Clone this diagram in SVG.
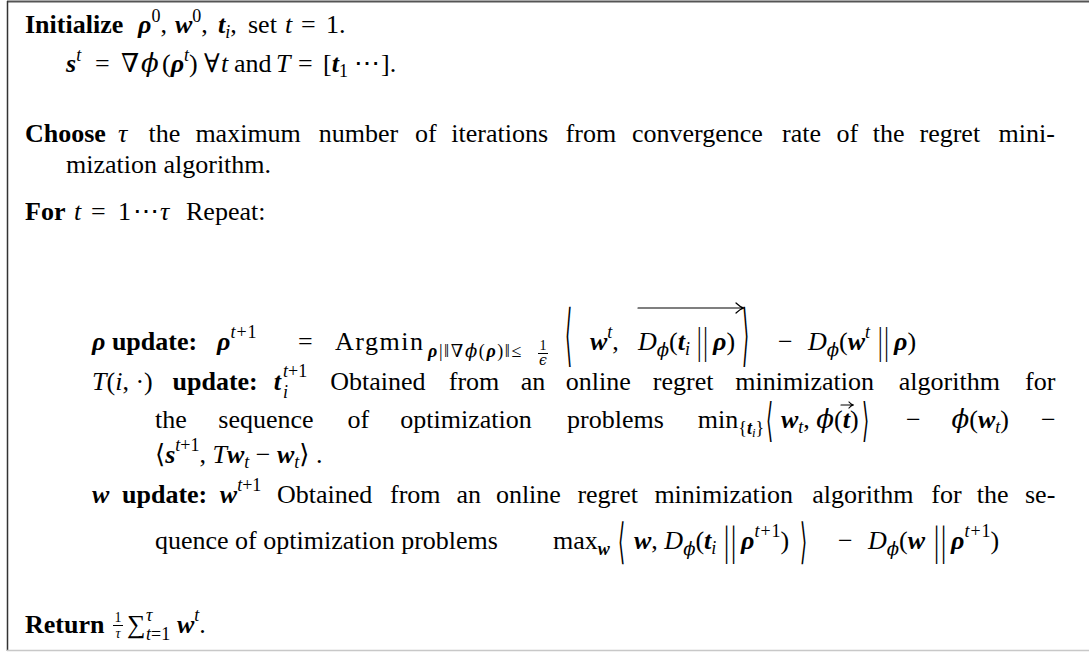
<svg xmlns="http://www.w3.org/2000/svg" width="1089" height="652" viewBox="0 0 1089 652">
<style>
text{font-family:"Liberation Serif","DejaVu Serif",serif;font-size:26px;fill:#000}
.b{font-weight:bold}
.i{font-style:italic}
.v{font-weight:bold;font-style:italic}
.s{font-size:18px}
.t{font-size:13px}
.f{font-size:14px}
.m{font-family:"DejaVu Serif","Liberation Serif",serif}
.ang{font-family:"DejaVu Sans","DejaVu Serif",sans-serif}
.bar{font-family:"Liberation Serif",serif;letter-spacing:3px}
.vec{fill:none;stroke:#000;stroke-width:1.2;stroke-linecap:round;stroke-linejoin:round}
.rule{stroke:#000;stroke-width:1}
</style>
<rect width="1089" height="652" fill="#fff"/>

<!-- box outline -->
<g id="frame">
<line x1="7" y1="1.5" x2="1089" y2="1.5" stroke="#555" stroke-width="2"/>
<line x1="7.5" y1="1" x2="7.5" y2="651" stroke="#333" stroke-width="1.5"/>
<line x1="7" y1="650.5" x2="1089" y2="650.5" stroke="#c8c8c8" stroke-width="1.5"/>
</g>

<!-- Initialize -->
<g id="step-init">
<text x="25" y="33"><tspan class="b">Initialize</tspan><tspan class="v" x="138">ρ</tspan><tspan class="s" dy="-11">0</tspan><tspan dy="11">,</tspan><tspan class="v" x="175">w</tspan><tspan class="s" dy="-11">0</tspan><tspan dy="11">,</tspan><tspan class="v" x="218">t</tspan><tspan class="s i" dy="5">i</tspan><tspan dy="-5">,</tspan><tspan x="248">set</tspan><tspan class="i" x="285">t</tspan><tspan x="301">=</tspan><tspan x="326">1.</tspan></text>
<text y="72"><tspan x="66" class="v">s</tspan><tspan class="s i" dy="-11">t</tspan><tspan x="95" dy="11">=</tspan><tspan x="121" class="m">∇</tspan><tspan x="141" class="m i">ϕ</tspan><tspan x="162">(</tspan><tspan class="v">ρ</tspan><tspan class="s i" dy="-11">t</tspan><tspan dy="11">)</tspan><tspan x="204" class="m">∀</tspan><tspan x="221" class="i">t</tspan><tspan x="234">and</tspan><tspan x="276" class="i">T</tspan><tspan x="298">=</tspan><tspan x="323">[</tspan><tspan class="v">t</tspan><tspan class="s" dy="5">1</tspan><tspan x="354" dy="-5" class="m">⋯</tspan><tspan x="381">].</tspan></text>
</g>

<!-- Choose -->
<g id="step-choose">
<text y="142"><tspan x="25" class="b">Choose</tspan><tspan x="118" class="i">τ</tspan><tspan x="148.6">the</tspan><tspan x="195.4">maximum</tspan><tspan x="318.7">number</tspan><tspan x="415">of</tspan><tspan x="451.3">iterations</tspan><tspan x="565.6">from</tspan><tspan x="631.9">convergence</tspan><tspan x="782.1">rate</tspan><tspan x="836.4">of</tspan><tspan x="872.7">the</tspan><tspan x="919.5">regret</tspan><tspan x="998.5">mini-</tspan></text>
<text x="66" y="173">mization algorithm.</text>
</g>

<!-- For loop -->
<g id="step-for">
<text x="25" y="220"><tspan class="b">For</tspan><tspan x="74" class="i">t</tspan><tspan x="91">=</tspan><tspan x="118">1</tspan><tspan x="133" class="m">⋯</tspan><tspan x="160" class="i">τ</tspan><tspan x="186">Repeat:</tspan></text>
</g>

<!-- rho update -->
<g id="update-rho">
<text x="92" y="350"><tspan class="v">ρ</tspan><tspan class="b"> update:</tspan></text>
<text x="217" y="350"><tspan class="v">ρ</tspan><tspan class="s i" dy="-12">t</tspan><tspan class="s" dx="1">+</tspan><tspan class="s" dx="1">1</tspan></text>
<text x="298" y="350">=</text>
<text x="335" y="350" style="letter-spacing:1.5px">Argmin</text>
<text x="428" y="357" class="s" style="letter-spacing:1.6px"><tspan class="v">ρ</tspan>|‖<tspan class="m">∇</tspan><tspan class="m i">ϕ</tspan>(<tspan class="v">ρ</tspan>)‖≤</text>
<text x="543" y="350" class="f" text-anchor="middle">1</text>
<line x1="538" y1="353.5" x2="548" y2="353.5" class="rule"/>
<text x="543" y="365" class="f m i" text-anchor="middle">ϵ</text>
<text class="ang" transform="translate(565 357.5) scale(0.7 2.6)">⟨</text>
<text x="590" y="350"><tspan class="v">w</tspan><tspan class="s i" dy="-12">t</tspan><tspan dy="12">,</tspan></text>
<text x="638" y="350"><tspan class="i">D</tspan><tspan class="s m i" dy="6">ϕ</tspan><tspan dy="-6">(</tspan><tspan class="v">t</tspan><tspan class="s i" dy="5">i</tspan></text>
<text class="bar" transform="translate(697 353.7) scale(0.6 1)" style="font-size:38px">||</text>
<text x="713" y="350"><tspan class="v">ρ</tspan>)</text>
<text class="ang" transform="translate(742 357.5) scale(0.7 2.6)">⟩</text>
<path class="vec" d="M638 308 H743 M736 303 Q740 307 744 308 Q740 309 736 313"/>
<text x="778" y="350">−</text>
<text x="808" y="350"><tspan class="i">D</tspan><tspan class="s m i" dy="6">ϕ</tspan><tspan dy="-6">(</tspan><tspan class="v">w</tspan><tspan class="s i" dy="-12">t</tspan></text>
<text class="bar" transform="translate(878 353.7) scale(0.6 1)" style="font-size:38px">||</text>
<text x="894" y="350"><tspan class="v">ρ</tspan>)</text>
</g>

<!-- T(i,.) update -->
<g id="update-T">
<text y="390"><tspan x="92" class="i">T</tspan>(<tspan class="i">i</tspan>, ·)<tspan x="172.5" class="b">update:</tspan></text>
<text x="273.8" y="390" class="v">t</text>
<text x="283" y="377" class="s"><tspan class="i">t</tspan>+1</text>
<text x="283" y="398" class="s i">i</text>
<text y="390"><tspan x="330.3">Obtained</tspan><tspan x="448.8">from</tspan><tspan x="520.8">an</tspan><tspan x="565.8">online</tspan><tspan x="652.8">regret</tspan><tspan x="735.3">minimization</tspan><tspan x="898.8">algorithm</tspan><tspan x="1025">for</tspan></text>
<text y="428"><tspan x="155">the</tspan><tspan x="218.3">sequence</tspan><tspan x="347.5">of</tspan><tspan x="400.3">optimization</tspan><tspan x="567">problems</tspan></text>
<text x="697.8" y="428">min<tspan class="s" dy="6">{</tspan><tspan class="s v">t</tspan><tspan class="t i" dy="3">i</tspan><tspan class="s" dy="-3">}</tspan></text>
<text class="ang" transform="translate(766 436) scale(0.7 1.77)">⟨</text>
<text x="781" y="428"><tspan class="v">w</tspan><tspan class="s i" dy="5">t</tspan><tspan dy="-5">, </tspan><tspan class="m i">ϕ</tspan>(<tspan class="v">t</tspan>)</text>
<path class="vec" d="M841 405 H853 M849 402 Q851 404.5 853.5 405 Q851 405.5 849 408"/>
<text class="ang" transform="translate(862 436) scale(0.7 1.77)">⟩</text>
<text x="906" y="428">−</text>
<text x="951.5" y="428"><tspan class="m i">ϕ</tspan>(<tspan class="v">w</tspan><tspan class="s i" dy="5">t</tspan><tspan dy="-5">)</tspan></text>
<text x="1041" y="428">−</text>
<text x="155" y="463"><tspan class="ang">⟨</tspan><tspan class="v">s</tspan><tspan class="s i" dy="-12">t</tspan><tspan class="s">+1</tspan><tspan dy="12">, </tspan><tspan class="i">T</tspan><tspan class="v">w</tspan><tspan class="s i" dy="5">t</tspan><tspan dy="-5"> − </tspan><tspan class="v">w</tspan><tspan class="s i" dy="5">t</tspan><tspan class="ang" dy="-5">⟩</tspan> .</text>
</g>

<!-- w update -->
<g id="update-w">
<text y="503"><tspan x="92" class="v">w</tspan><tspan x="122" class="b">update:</tspan><tspan x="219.8" class="v">w</tspan><tspan class="s i" dy="-12">t</tspan><tspan class="s">+1</tspan><tspan x="277" dy="12">Obtained</tspan><tspan x="390">from</tspan><tspan x="456.4">an</tspan><tspan x="495.9">online</tspan><tspan x="577.4">regret</tspan><tspan x="654.4">minimization</tspan><tspan x="812.3">algorithm</tspan><tspan x="931.3">for</tspan><tspan x="976.7">the</tspan><tspan x="1025">se-</tspan></text>
<text x="155" y="549">quence of optimization problems</text>
<text x="553" y="549">max<tspan class="s v" dy="6">w</tspan></text>
<text class="ang" transform="translate(618 557.6) scale(0.7 1.85)">⟨</text>
<text x="634" y="549"><tspan class="v">w</tspan>, <tspan class="i">D</tspan><tspan class="s m i" dy="6">ϕ</tspan><tspan dy="-6">(</tspan><tspan class="v">t</tspan><tspan class="s i" dy="5">i</tspan></text>
<text class="bar" transform="translate(724 554.6) scale(0.6 1)" style="font-size:43px">||</text>
<text x="741" y="549"><tspan class="v">ρ</tspan><tspan class="s i" dy="-12">t</tspan><tspan class="s" dx="1">+</tspan><tspan class="s" dx="1">1</tspan><tspan dy="12">)</tspan></text>
<text class="ang" transform="translate(800 557.6) scale(0.7 1.85)">⟩</text>
<text x="838" y="549">−</text>
<text x="868" y="549"><tspan class="i">D</tspan><tspan class="s m i" dy="6">ϕ</tspan><tspan dy="-6">(</tspan><tspan class="v">w</tspan></text>
<text class="bar" transform="translate(934 554.6) scale(0.6 1)" style="font-size:43px">||</text>
<text x="951" y="549"><tspan class="v">ρ</tspan><tspan class="s i" dy="-12">t</tspan><tspan class="s" dx="1">+</tspan><tspan class="s" dx="1">1</tspan><tspan dy="12">)</tspan></text>
</g>

<!-- Return -->
<g id="step-return">
<text x="25" y="633" class="b">Return</text>
<text x="118" y="622" class="f" text-anchor="middle">1</text>
<line x1="113" y1="625.5" x2="123" y2="625.5" class="rule"/>
<text x="118" y="638" class="f i" text-anchor="middle">τ</text>
<text x="127" y="633">∑</text>
<text x="146" y="621" class="s i">τ</text>
<text x="146" y="640" class="s"><tspan class="i">t</tspan>=1</text>
<text x="177" y="633"><tspan class="v">w</tspan><tspan class="s i" dy="-12">t</tspan><tspan dy="12">.</tspan></text>
</g>
</svg>
